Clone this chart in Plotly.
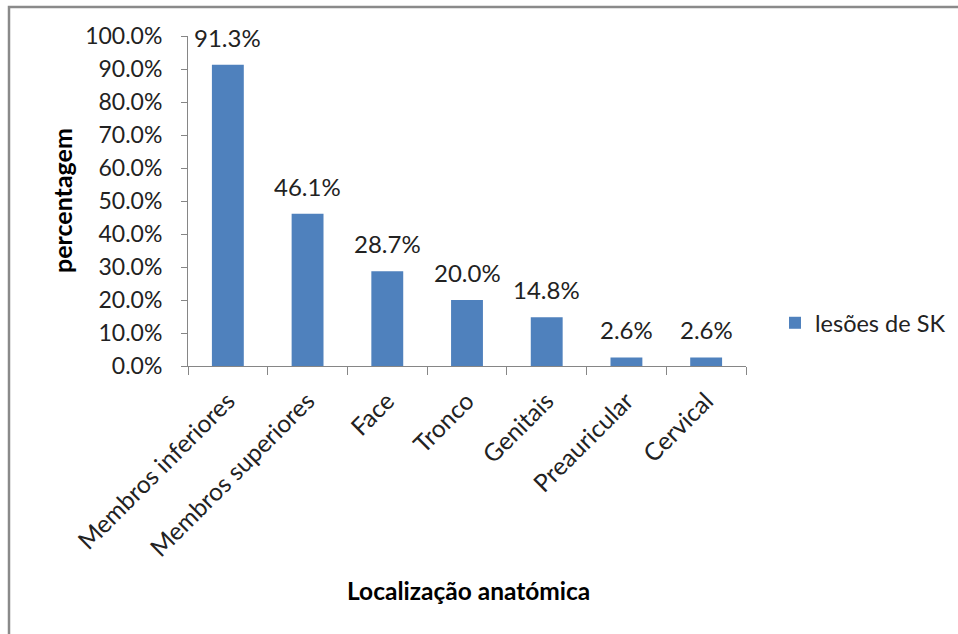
import plotly.graph_objects as go

# Anatomical location of SK lesions (share of patients)
categories = ["Membros inferiores", "Membros superiores", "Face", "Tronco",
              "Genitais", "Preauricular", "Cervical"]
values = [0.913, 0.461, 0.287, 0.200, 0.148, 0.026, 0.026]
series_name = "lesões de SK"
y_ticks = [0.0, 0.1, 0.2, 0.3, 0.4, 0.5, 0.6, 0.7, 0.8, 0.9, 1.0]

BAR = "#4F81BD"
AXIS = "#868686"
TEXT = "#222222"
FONT = "Lato"

W, H = 958, 634
L, R, T, B = 188, 212, 36, 268
pw, ph = W - L - R, H - T - B


def px_x(x):
    return (x - L) / pw


def px_y(y):
    return (H - B - y) / ph


fig = go.Figure()
fig.add_trace(go.Bar(
    x=categories, y=values, name=series_name,
    marker=dict(color=BAR, line=dict(width=0)),
    width=0.4,
    showlegend=True,
))

# value labels above each bar
for c, v in zip(categories, values):
    fig.add_annotation(
        x=c, y=v, text=f"{v * 100:.1f}%", showarrow=False,
        yanchor="bottom", yshift=11,
        font=dict(family=FONT, size=24, color=TEXT),
    )

# axis titles
fig.add_annotation(
    x=px_x(62), y=px_y(201), xref="paper", yref="paper", text="<b>percentagem</b>",
    textangle=-90, showarrow=False, xanchor="center", yanchor="middle",
    font=dict(family=FONT, size=25, color="#000000"),
)
fig.add_annotation(
    x=px_x(468), y=px_y(590), xref="paper", yref="paper",
    text="<b>Localização anatómica</b>", showarrow=False,
    xanchor="center", yanchor="middle",
    font=dict(family=FONT, size=24.5, color="#000000"),
)

# chart frame
fig.add_shape(
    type="rect", xref="paper", yref="paper",
    x0=px_x(9), x1=px_x(1000), y0=px_y(700), y1=px_y(7),
    line=dict(color="#8a8a8a", width=2.5), fillcolor="rgba(0,0,0,0)",
    layer="below",
)

fig.update_layout(
    width=W, height=H,
    margin=dict(l=L, r=R, t=T, b=B, autoexpand=False),
    paper_bgcolor="white", plot_bgcolor="white",
    font=dict(family=FONT, size=23, color=TEXT),
    showlegend=True,
    legend=dict(
        x=px_x(775), y=px_y(323), xanchor="left", yanchor="middle",
        font=dict(family=FONT, size=23.5, color=TEXT),
        bgcolor="rgba(0,0,0,0)", borderwidth=0,
    ),
    bargap=0.6,
)

fig.update_xaxes(
    type="category", showgrid=False, showline=True, linecolor=AXIS, linewidth=1,
    ticks="outside", tickson="boundaries", ticklen=8, tickcolor=AXIS,
    tickangle=-45, automargin=False, ticklabelstandoff=10,
    tickfont=dict(family=FONT, size=24.5, color=TEXT),
)
fig.update_yaxes(
    range=[0, 1], tickvals=y_ticks, tickformat=".1%",
    showgrid=False, showline=True, linecolor=AXIS, linewidth=1,
    ticks="outside", ticklen=6, tickcolor=AXIS, automargin=False,
    zeroline=False, ticklabelstandoff=14,
    tickfont=dict(family=FONT, size=23, color=TEXT),
)

fig.write_html("out.html")
